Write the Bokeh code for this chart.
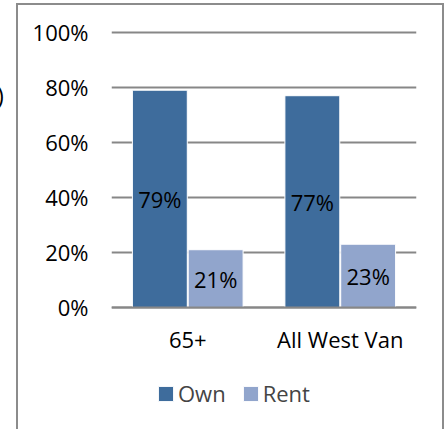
from bokeh.plotting import figure
from bokeh.models import (FactorRange, Range1d, PrintfTickFormatter, FixedTicker,
                          Legend, ColumnDataSource, InlineStyleSheet)
from bokeh.transform import dodge
from bokeh.core.properties import value
from bokeh.embed import file_html
from bokeh.resources import INLINE

categories = ["65+", "All West Van"]
own = [79, 77]
rent = [21, 23]
y_ticks = [0, 20, 40, 60, 80, 100]

FONT = "Open Sans"
FS = "22px"
OWN_C = "#3E6C9C"
RENT_C = "#91A5CC"
GRID_C = "#878787"

src = ColumnDataSource(dict(
    cat=categories, own=own, rent=rent,
    own_mid=[v / 2 for v in own], rent_mid=[v / 2 for v in rent],
    own_lbl=[f"{v}%" for v in own], rent_lbl=[f"{v}%" for v in rent],
))

frame_css = InlineStyleSheet(css="""
:host { position: relative; }
:host::after {
  content: ""; position: absolute; left: 16px; top: 3px; width: 428px; height: 426px;
  border: 2px solid #8c8c8c; border-bottom: none; box-sizing: border-box;
  pointer-events: none;
}
:host::before {
  content: ")"; position: absolute; left: -3px; top: 79px;
  font-family: 'Open Sans'; font-size: 23px; color: black; z-index: 2;
}
""")

# frame spans from the top gridline area down to the bottom of the page;
# the value axis keeps 2.75 px per percent, with 0% at the category axis line
p = figure(width=446, height=429, output_backend="svg", toolbar_location=None,
           x_range=FactorRange(factors=categories, range_padding=0),
           y_range=Range1d(-44.36, 101.8), stylesheets=[frame_css])
p.min_border_left = 111
p.min_border_right = 30
p.min_border_top = 27
p.min_border_bottom = 0
p.outline_line_color = None
p.background_fill_color = "white"
p.border_fill_color = "white"

r_own = p.vbar(x=dodge("cat", -0.183, range=p.x_range), top="own", bottom=0, width=0.36,
               source=src, fill_color=OWN_C, line_color="white", line_width=1)
r_rent = p.vbar(x=dodge("cat", 0.183, range=p.x_range), top="rent", bottom=0, width=0.36,
                source=src, fill_color=RENT_C, line_color="white", line_width=1)

p.text(x=dodge("cat", -0.183, range=p.x_range), y="own_mid", text="own_lbl", source=src,
       text_align="center", text_baseline="middle", text_font=value(FONT),
       text_font_size=FS, text_color="black")
p.text(x=dodge("cat", 0.183, range=p.x_range), y="rent_mid", text="rent_lbl", source=src,
       text_align="center", text_baseline="middle", text_font=value(FONT),
       text_font_size=FS, text_color="black")

# axes
p.yaxis.ticker = FixedTicker(ticks=y_ticks)
p.yaxis.formatter = PrintfTickFormatter(format="%d%%")
p.yaxis.axis_line_color = None
p.yaxis.major_tick_line_color = None
p.yaxis.minor_tick_line_color = None
p.yaxis.major_tick_out = 0
p.yaxis.major_tick_in = 0
p.yaxis.minor_tick_out = 0
p.yaxis.major_label_standoff = 23
p.yaxis.major_label_text_font = FONT
p.yaxis.major_label_text_font_size = FS
p.yaxis.major_label_text_color = "black"

p.xaxis.fixed_location = 0
p.xaxis.axis_line_color = GRID_C
p.xaxis.axis_line_width = 2
p.xaxis.major_tick_line_color = None
p.xaxis.minor_tick_line_color = None
p.xaxis.major_tick_out = 0
p.xaxis.major_tick_in = 0
p.xaxis.minor_tick_out = 0
p.xaxis.major_label_standoff = 17
p.xaxis.major_label_text_font = FONT
p.xaxis.major_label_text_font_size = FS
p.xaxis.major_label_text_color = "black"

p.xgrid.grid_line_color = None
p.ygrid.grid_line_color = GRID_C
p.ygrid.grid_line_width = 2

legend = Legend(items=[("Own", [r_own]), ("Rent", [r_rent])],
                orientation="horizontal", location=(45, 21),
                label_text_font=FONT, label_text_font_size=FS,
                glyph_width=19, glyph_height=19, label_standoff=3, spacing=15,
                padding=0, margin=0, border_line_color=None,
                background_fill_alpha=0)
p.add_layout(legend, "center")

open("out.html", "w").write(file_html(p, INLINE))
